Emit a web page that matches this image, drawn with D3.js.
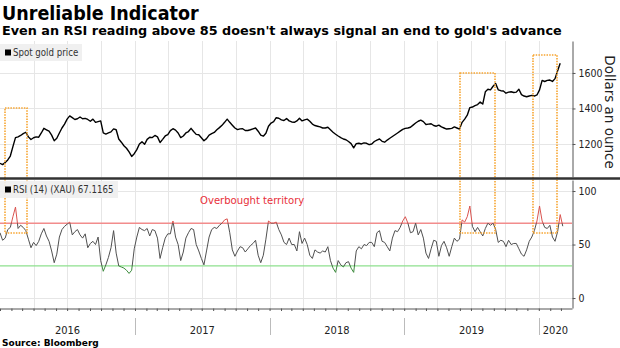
<!DOCTYPE html>
<html>
<head>
<meta charset="utf-8">
<script src="https://cdn.jsdelivr.net/npm/d3@7"></script>
<style>
  body { margin: 0; background: #fff; }
  svg { display: block; font-family: "DejaVu Sans Condensed", "DejaVu Sans", sans-serif; }
</style>
</head>
<body>
<svg width="620" height="348"></svg>
<script>
// weekly closes starting 2016-01-01
var startDate = new Date(2016, 0, 1);
var endDate = new Date(2020, 2, 31);

var goldPrice = [
  1091,1084,1095,1110,1132,1185,1236,1240,1248,1258,
  1266,1240,1225,1235,1240,1238,1262,1288,1280,1272,
  1250,1218,1232,1262,1290,1312,1340,1358,1348,1338,
  1342,1352,1342,1344,1338,1328,1340,1322,1326,1330,
  1262,1256,1262,1268,1285,1280,1228,1210,1190,1176,
  1155,1130,1145,1168,1200,1212,1198,1226,1238,1236,
  1248,1240,1208,1226,1245,1253,1275,1286,1278,1262,
  1236,1245,1262,1270,1288,1270,1254,1252,1235,1218,
  1230,1250,1258,1265,1280,1292,1305,1322,1340,1322,
  1306,1290,1281,1285,1286,1276,1276,1280,1285,1290,
  1272,1250,1244,1260,1300,1318,1326,1348,1345,1336,
  1332,1343,1330,1324,1322,1330,1345,1330,1336,1340,
  1328,1312,1304,1300,1296,1290,1290,1294,1280,1266,
  1255,1245,1236,1228,1224,1214,1202,1178,1202,1204,
  1200,1206,1204,1196,1200,1214,1222,1228,1215,1210,
  1222,1232,1242,1252,1262,1272,1282,1288,1290,1294,
  1306,1318,1328,1334,1326,1310,1312,1314,1304,1300,
  1306,1296,1290,1284,1286,1288,1296,1290,1284,1322,
  1340,1362,1405,1408,1416,1422,1436,1425,1494,1508,
  1505,1525,1540,1505,1500,1498,1486,1492,1494,1490,
  1492,1508,1478,1470,1466,1470,1474,1470,1476,1505,
  1558,1552,1558,1560,1552,1568,1612,1655
];

var rsiValues = [
  61,54,56,64,66,76,85,65,68,66,
  63,55,47,52,49,53,60,65,58,53,
  44,33,41,57,64,67,69,71,59,62,
  64,59,56,60,47,51,53,50,57,35,
  25,31,38,47,63,42,30,29,28,26,
  23,26,46,57,66,64,63,65,58,64,
  63,56,37,47,56,60,60,72,57,50,
  35,43,56,61,65,64,50,44,37,31,
  44,57,64,66,65,68,70,73,74,61,
  45,39,44,48,47,43,46,49,51,54,
  40,33,40,55,72,70,70,71,64,59,
  52,50,56,50,50,44,62,51,56,50,
  40,37,45,43,42,44,43,48,35,28,
  24,35,31,29,33,34,28,24,44,48,
  46,50,49,52,52,48,61,63,53,52,
  48,44,56,63,62,66,72,76,70,61,
  62,70,59,64,56,42,37,46,54,53,
  39,49,53,47,39,48,56,53,55,73,
  71,76,86,67,62,66,62,58,65,70,
  68,70,64,52,54,53,48,54,50,51,
  51,46,41,39,45,53,57,63,72,86,
  72,66,65,68,57,53,62,78,67.1165
];

var priceTicks = [1200, 1400, 1600];
var rsiTicks = [0, 50, 100];
var overbought = 70, oversold = 30;
var years = [2016, 2017, 2018, 2019, 2020];

// highlighted rallies: start, end, top (price), bottom (RSI)
var boxStart = ["2016-01-14", "2019-05-31", "2019-12-17"];
var boxEnd = ["2016-03-15", "2019-09-05", "2020-02-18"];
var boxTop = [1400, 1600, 1700];
var boxBottom = [61, 61, 61];

var svg = d3.select("svg");
var plotRight = 572;
var parse = d3.timeParse("%Y-%m-%d");

var x = d3.scaleTime().domain([startDate, endDate]).range([0, plotRight]);
var yGold = d3.scaleLinear().domain([1014, 1780]).range([177, 41]);
var yRsi = d3.scaleLinear().domain([-9.3, 110.3]).range([308, 180]);

function weekDate(i) { return d3.timeDay.offset(startDate, 7 * i); }
function px(v) { return Math.round(v) + 0.5; }

// title
svg.append("text").attr("x", 2).attr("y", 20)
  .style("font-weight", "bold").style("font-size", "19.5px")
  .text("Unreliable Indicator");
svg.append("text").attr("x", 2).attr("y", 35)
  .style("font-family", "'DejaVu Sans', sans-serif")
  .style("font-weight", "bold").style("font-size", "12.8px")
  .text("Even an RSI reading above 85 doesn't always signal an end to gold's advance");

// gridlines
var quarters = d3.timeMonth.every(3).range(startDate, endDate).slice(1);
var grid = svg.append("g").attr("stroke", "#e6e6e6").attr("stroke-width", 1);
grid.selectAll(".vq").data(quarters).enter().append("line")
  .attr("x1", function(d) { return px(x(d)); })
  .attr("x2", function(d) { return px(x(d)); })
  .attr("y1", 41).attr("y2", 177);
grid.selectAll(".vr").data(quarters).enter().append("line")
  .attr("x1", function(d) { return px(x(d)); })
  .attr("x2", function(d) { return px(x(d)); })
  .attr("y1", 180).attr("y2", 308);
grid.selectAll(".hp").data(priceTicks).enter().append("line")
  .attr("x1", 0).attr("x2", plotRight)
  .attr("y1", function(d) { return px(yGold(d)); })
  .attr("y2", function(d) { return px(yGold(d)); });
grid.selectAll(".hr").data(rsiTicks).enter().append("line")
  .attr("x1", 0).attr("x2", plotRight)
  .attr("y1", function(d) { return px(yRsi(d)); })
  .attr("y2", function(d) { return px(yRsi(d)); });

// overbought / oversold levels
svg.append("line").attr("x1", 0).attr("x2", plotRight)
  .attr("y1", yRsi(overbought)).attr("y2", yRsi(overbought))
  .attr("stroke", "#f28c8c").attr("stroke-width", 1.5);
svg.append("line").attr("x1", 0).attr("x2", plotRight)
  .attr("y1", yRsi(oversold)).attr("y2", yRsi(oversold))
  .attr("stroke", "#8ee08e").attr("stroke-width", 1.2);

// gold price
var goldLine = d3.line()
  .x(function(d, i) { return x(weekDate(i)); })
  .y(function(d) { return yGold(d); });
svg.append("path").datum(goldPrice)
  .attr("d", goldLine)
  .attr("fill", "none").attr("stroke", "#000").attr("stroke-width", 1.4)
  .attr("stroke-linejoin", "round");

// RSI, coloured by zone
var defs = svg.append("defs");
var zones = [
  { id: "zoneHigh", y0: 180, y1: yRsi(overbought), color: "#d9534f" },
  { id: "zoneMid", y0: yRsi(overbought), y1: yRsi(oversold), color: "#505050" },
  { id: "zoneLow", y0: yRsi(oversold), y1: 308, color: "#3d8b3d" }
];
zones.forEach(function(z) {
  defs.append("clipPath").attr("id", z.id).append("rect")
    .attr("x", 0).attr("width", plotRight)
    .attr("y", z.y0).attr("height", z.y1 - z.y0);
});
var rsiLine = d3.line()
  .x(function(d, i) { return x(weekDate(i)); })
  .y(function(d) { return yRsi(d); });
zones.forEach(function(z) {
  svg.append("path").datum(rsiValues)
    .attr("d", rsiLine)
    .attr("clip-path", "url(#" + z.id + ")")
    .attr("fill", "none").attr("stroke", z.color).attr("stroke-width", 1)
    .attr("stroke-linejoin", "round");
});

// highlight boxes
svg.append("g").selectAll("rect").data(boxStart).enter().append("rect")
  .attr("x", function(d) { return Math.round(x(parse(d))); })
  .attr("width", function(d, i) { return Math.round(x(parse(boxEnd[i]))) - Math.round(x(parse(d))); })
  .attr("y", function(d, i) { return Math.round(yGold(boxTop[i])); })
  .attr("height", function(d, i) { return Math.round(yRsi(boxBottom[i])) - Math.round(yGold(boxTop[i])); })
  .attr("fill", "none").attr("stroke", "#f7a531").attr("stroke-width", 1.6)
  .attr("stroke-dasharray", "1.5,1.2");

// panel divider
svg.append("line").attr("x1", 0).attr("x2", 620).attr("y1", 178.5).attr("y2", 178.5)
  .attr("stroke", "#333").attr("stroke-width", 2.5);

// right axes
function styleAxis(g) {
  g.select(".domain").attr("stroke", "#555");
  g.selectAll(".tick line").attr("stroke", "#555");
  g.selectAll(".tick text").attr("fill", "#222")
    .style("font-family", "'DejaVu Sans Condensed', 'DejaVu Sans', sans-serif")
    .style("font-size", "10.5px");
}
svg.append("g").attr("transform", "translate(" + (plotRight + 0.5) + ",0)")
  .call(d3.axisRight(yGold).tickValues(priceTicks).tickFormat(d3.format("d"))
    .tickSize(3).tickSizeOuter(0).tickPadding(3))
  .call(styleAxis);
svg.append("g").attr("transform", "translate(" + (plotRight + 0.5) + ",0)")
  .call(d3.axisRight(yRsi).tickValues(rsiTicks).tickFormat(d3.format("d"))
    .tickSize(3).tickSizeOuter(0).tickPadding(3))
  .call(styleAxis);

svg.append("text")
  .attr("transform", "translate(605,112) rotate(90)")
  .attr("text-anchor", "middle")
  .style("font-family", "'DejaVu Sans', sans-serif")
  .style("font-size", "13.5px").attr("fill", "#222")
  .text("Dollars an ounce");

// bottom time axis with monthly ticks
svg.append("g").attr("transform", "translate(0,308.5)")
  .call(d3.axisBottom(x).ticks(d3.timeMonth.every(1)).tickSize(2.5).tickSizeOuter(0).tickFormat(""))
  .call(function(g) {
    g.select(".domain").attr("stroke", "#555");
    g.selectAll(".tick line").attr("stroke", "#555");
  });

var yearStarts = years.map(function(y) { return new Date(y, 0, 1); });
svg.append("g").selectAll("line").data(yearStarts.slice(1)).enter().append("line")
  .attr("x1", function(d) { return px(x(d)); })
  .attr("x2", function(d) { return px(x(d)); })
  .attr("y1", 318).attr("y2", 335)
  .attr("stroke", "#bbb");
svg.append("g").selectAll("text").data(years).enter().append("text")
  .attr("x", function(d) {
    var a = x(new Date(d, 0, 1)), b = Math.min(x(new Date(d + 1, 0, 1)), plotRight);
    return (a + b) / 2;
  })
  .attr("y", 333.5).attr("text-anchor", "middle")
  .style("font-size", "11px").attr("fill", "#222")
  .text(function(d) { return d; });

// legends
function legend(y, w, label) {
  var g = svg.append("g");
  g.append("rect").attr("x", 0).attr("y", y).attr("width", w).attr("height", 17)
    .attr("fill", "#eeeeee").attr("opacity", 0.9);
  g.append("rect").attr("x", 5).attr("y", y + 5.5).attr("width", 6).attr("height", 6).attr("fill", "#000");
  g.append("text").attr("x", 13).attr("y", y + 12).style("font-size", "9.6px").attr("fill", "#333")
    .text(label);
}
legend(44, 82, "Spot gold price");
legend(181, 118, "RSI (14) (XAU) " + rsiValues[rsiValues.length - 1]);

svg.append("text").attr("x", 200).attr("y", 203.5)
  .style("font-size", "11.2px").attr("fill", "#e8303a")
  .text("Overbought territory");

svg.append("text").attr("x", 2).attr("y", 345.5)
  .style("font-family", "'DejaVu Sans', sans-serif")
  .style("font-weight", "bold").style("font-size", "9px")
  .text("Source:  Bloomberg");
</script>
</body>
</html>
